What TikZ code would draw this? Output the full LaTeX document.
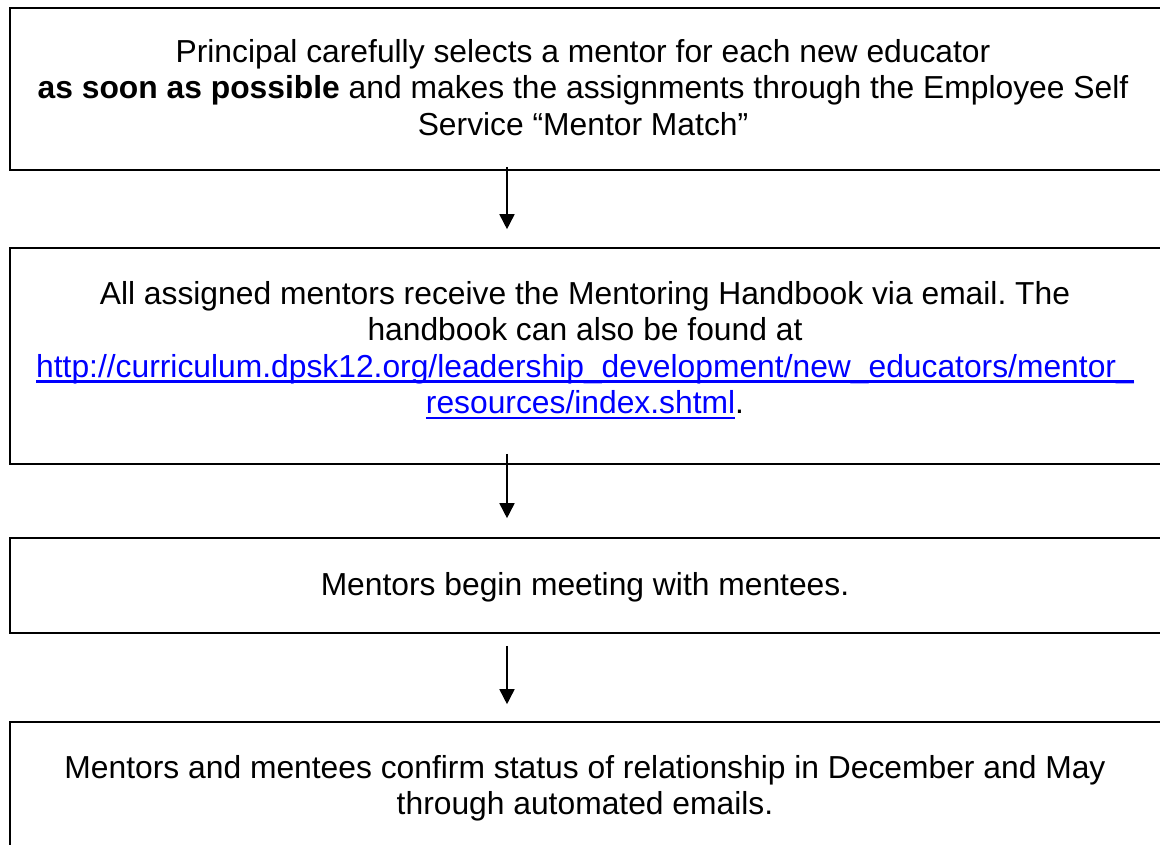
\documentclass[tikz,border=0pt]{standalone}
\usepackage{fontspec}
\setmainfont{Liberation Sans}
\usetikzlibrary{arrows.meta}
\definecolor{linkblue}{RGB}{0,0,255}
\newcommand\weblink[1]{\textcolor{linkblue}{\setbox0\hbox{#1}\rlap{\rule[-5.5pt]{\wd0}{2.2pt}}\box0}}
\frenchspacing
\begin{document}
\begin{tikzpicture}[x=1pt,y=-1pt,
    stagebox/.style={draw,line width=1.6pt,rectangle,minimum width=1152pt,inner sep=0pt},
    stagetext/.style={anchor=north,inner sep=0pt,align=center,
      font=\fontsize{31.8}{36.5}\selectfont},
    flow/.style={line width=1.6pt,-{Triangle[length=15pt,width=15pt]}}]
  \useasboundingbox (0,0) rectangle (1160,844);
  \clip (0,0) rectangle (1160,844);
  % boxes
  \node[stagebox,minimum height=162pt] (b1) at (586,89) {};
  \node[stagebox,minimum height=216pt] (b2) at (586,356) {};
  \node[stagebox,minimum height=95pt] (b3) at (586,585.5) {};
  \node[stagebox,minimum height=162pt] (b4) at (586,803) {};
  % texts
  \node[stagetext] (t1) at (583,38.8) {Principal carefully selects a mentor for each new educator\\
    \textbf{as soon as possible} and makes the assignments through the Employee Self\\
    Service “Mentor Match”};
  \node[stagetext] (t2) at (585,280.8) {All assigned mentors receive the Mentoring Handbook via email. The\\
    handbook can also be found at\\
    \weblink{http://curriculum.dpsk12.org/leadership\_development/new\_educators/mentor\_}\\
    \weblink{resources/index.shtml}.};
  \node[stagetext] (t3) at (585,571.8) {Mentors begin meeting with mentees.};
  \node[stagetext] (t4) at (585,754.8) {Mentors and mentees confirm status of relationship in December and May\\
    through automated emails.};
  % arrows
  \coordinate (axis) at (507,0);
  \draw[flow,shorten <=-4pt,shorten >=18pt] (b1.south -| axis) -- (b2.north -| axis);
  \draw[flow,shorten <=-11pt,shorten >=19pt] (b2.south -| axis) -- (b3.north -| axis);
  \draw[flow,shorten <=12pt,shorten >=17pt] (b3.south -| axis) -- (b4.north -| axis);
\end{tikzpicture}
\end{document}
